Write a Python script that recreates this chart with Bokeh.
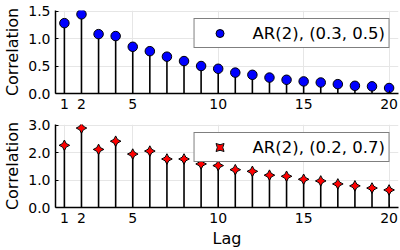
import math
from bokeh.plotting import figure
from bokeh.models import FixedTicker, Range1d, Legend, LegendItem, PrintfTickFormatter, ColumnDataSource
from bokeh.layouts import column
from bokeh.embed import file_html
from bokeh.resources import INLINE

lags = list(range(1, 21))
acf_top = [1.28, 1.44, 1.08, 1.045, 0.85, 0.77, 0.67, 0.59, 0.50, 0.45,
           0.38, 0.34, 0.29, 0.25, 0.22, 0.20, 0.17, 0.14, 0.13, 0.10]
acf_bottom = [2.27, 2.90, 2.12, 2.42, 1.95, 2.06, 1.77, 1.77, 1.59, 1.53,
              1.38, 1.32, 1.18, 1.14, 1.03, 0.97, 0.86, 0.79, 0.71, 0.64]
x_ticks = [1, 2, 5, 10, 15, 20]
top_y_ticks = [0.0, 0.5, 1.0, 1.5]
bottom_y_ticks = [0.0, 1.0, 2.0, 3.0]
label_top = "AR(2), (0.3, 0.5)"
label_bottom = "AR(2), (0.2, 0.7)"
y_label = "Correlation"
x_label = "Lag"

FONT = "DejaVu Sans"
TICK_FS = "14px"
GUIDE_FS = "16px"
LEGEND_FS = "16.5px"


def make(values, yticks, ymax, label, marker, color, size, angle, height, mb_top, mb_bottom, xlabel):
    p = figure(width=400, height=height, output_backend="svg", toolbar_location=None,
               x_range=Range1d(0.48, 20.55), y_range=Range1d(0, ymax),
               min_border_left=54, min_border_right=2,
               min_border_top=mb_top, min_border_bottom=mb_bottom)
    p.outline_line_color = None
    p.background_fill_color = "white"
    p.border_fill_color = "white"
    src = ColumnDataSource(dict(lag=lags, val=values, base=[0] * len(lags)))
    p.segment(x0="lag", y0="base", x1="lag", y1="val", source=src,
              line_color="black", line_width=1.6)
    r = p.scatter(x="lag", y="val", source=src, marker=marker, size=size, angle=angle,
                  fill_color=color, line_color="black", line_width=1)

    p.xaxis.ticker = FixedTicker(ticks=x_ticks)
    p.yaxis.ticker = FixedTicker(ticks=yticks)
    p.yaxis.formatter = PrintfTickFormatter(format="%.1f")
    for ax in (p.xaxis, p.yaxis):
        ax.major_tick_in = 3
        ax.major_tick_out = 0
        ax.minor_tick_line_color = None
        ax.axis_line_width = 1.5
        ax.axis_line_color = "black"
        ax.major_tick_line_color = "black"
        ax.major_tick_line_width = 1
        ax.major_label_text_font = FONT
        ax.major_label_text_font_size = TICK_FS
        ax.major_label_text_color = "black"
        ax.axis_label_text_font = FONT
        ax.axis_label_text_font_size = GUIDE_FS
        ax.axis_label_text_font_style = "normal"
        ax.axis_label_text_color = "black"
    p.yaxis.major_label_standoff = 5
    p.yaxis.axis_label_standoff = 3
    p.xaxis.major_label_standoff = 5
    p.xaxis.axis_label_standoff = 3
    p.yaxis.axis_label = y_label
    if xlabel:
        p.xaxis.axis_label = xlabel
    for g in (p.xgrid, p.ygrid):
        g.grid_line_color = "#e6e6e6"
        g.grid_line_width = 1

    legend = Legend(items=[LegendItem(label=label, renderers=[r])], location="top_right")
    legend.margin = 8
    legend.padding = 4
    legend.glyph_width = 42
    legend.glyph_height = 20
    legend.label_standoff = 12
    legend.label_text_font = FONT
    legend.label_text_font_size = LEGEND_FS
    legend.label_text_color = "black"
    legend.border_line_color = "black"
    legend.border_line_width = 1
    legend.background_fill_color = "white"
    legend.background_fill_alpha = 1
    p.add_layout(legend)
    return p


p1 = make(acf_top, top_y_ticks, 1.51, label_top, "circle", "blue", 9.5, 0, 116, 10, 23, None)
p2 = make(acf_bottom, bottom_y_ticks, 3.03, label_bottom, "square_pin", "red", 7.5, math.pi / 4,
          134, 8, 42, x_label)

layout = column(p1, p2, spacing=0)
open("out.html", "w").write(file_html(layout, INLINE))
